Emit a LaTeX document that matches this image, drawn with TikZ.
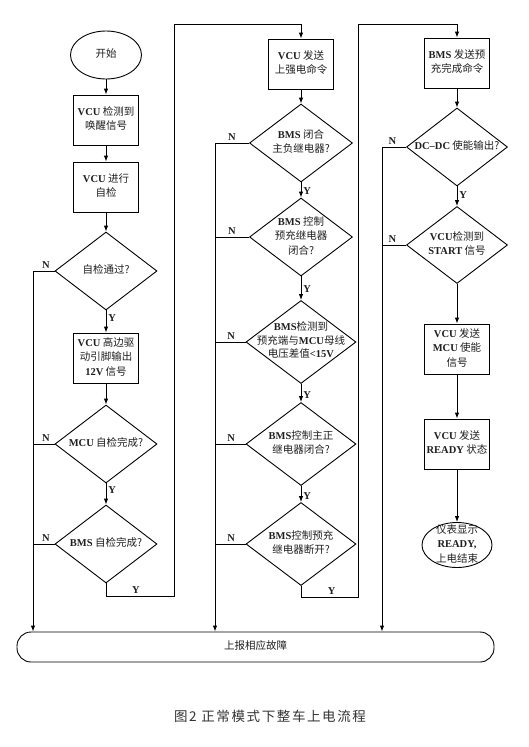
\documentclass[tikz,border=0pt]{standalone}
\usepackage{fontspec}
\setmainfont{Noto Sans CJK SC}
\newfontfamily\latf{Liberation Serif}
\newfontfamily\capfont{Noto Sans CJK SC}[LetterSpace=12]
\usetikzlibrary{shapes.geometric,arrows.meta}
\newcommand{\B}[1]{{\latf\bfseries #1}}
\newcommand{\zt}[1]{\smash{\makebox[0pt]{\raisebox{-2.5pt}{\begin{tabular}{@{}c@{}}#1\end{tabular}}}}}
\begin{document}
\begin{tikzpicture}[x=1pt,y=-1pt,
  every node/.style={font=\fontsize{10.5}{14.5}\selectfont, text=black!88},
  shp/.style={draw=black, line width=0.9pt, inner sep=0pt},
  stepbox/.style={shp, rectangle, minimum width=65pt, minimum height=50pt},
  dec/.style={shp, diamond, minimum width=102pt, minimum height=78pt},
  decw/.style={shp, diamond, minimum width=110pt, minimum height=83pt},
  term/.style={shp, ellipse},
  arr/.style={draw=black, line width=0.9pt, -{Latex[length=6pt,width=4.5pt]}},
  ln/.style={draw=black, line width=0.9pt},
  yl/.style={font=\latf\bfseries\fontsize{10.5}{12}\selectfont, inner sep=2pt},
  nl/.style={font=\latf\bfseries\fontsize{10.5}{12}\selectfont, inner sep=2pt, above},
]
\useasboundingbox (0,0) rectangle (528,747);

% left column
\node[term, minimum width=71pt, minimum height=48pt] (start) at (106,55) {\zt{开始}};
\node[stepbox] (b1) at (106,120) {\zt{\B{VCU} 检测到\\唤醒信号}};
\node[stepbox] (b2) at (106,187) {\zt{\B{VCU} 进行\\自检}};
\node[dec] (d1) at (106,271) {\zt{自检通过?}};
\node[stepbox] (b3) at (106,358) {\zt{\B{VCU} 高边驱\\动引脚输出\\\B{12V} 信号}};
\node[dec] (d2) at (106,444) {\zt{\B{MCU} 自检完成?}};
\node[dec] (d3) at (106,544) {\zt{\B{BMS} 自检完成?}};

% middle column
\node[stepbox] (m1) at (301,64) {\zt{\B{VCU} 发送\\上强电命令}};
\node[dec, minimum width=103pt] (md1) at (301,143) {\zt{\B{BMS} 闭合\\主负继电器?}};
\node[dec, minimum width=103pt] (md2) at (301,237) {\zt{\B{BMS} 控制\\预充继电器\\闭合?}};
\node[decw, font=\fontsize{10.5}{13.5}\selectfont] (md3) at (301,342) {\zt{\B{BMS}检测到\\预充端与\B{MCU}母线\\电压差值\B{<15V}}};
\node[decw] (md4) at (301,444) {\zt{\B{BMS}控制主正\\继电器闭合?}};
\node[decw] (md5) at (301,544) {\zt{\B{BMS}控制预充\\继电器断开?}};

% right column
\node[stepbox] (r1) at (457,63) {\zt{\B{BMS} 发送预\\充完成命令}};
\node[dec, minimum width=101pt] (rd1) at (457,147) {\zt{\B{DC–DC} 使能输出?}};
\node[dec, minimum width=101pt, minimum height=77pt] (rd2) at (457,245) {\zt{\B{VCU}检测到\\\B{START} 信号}};
\node[stepbox] (r2) at (457,349) {\zt{\B{VCU} 发送\\\B{MCU} 使能\\信号}};
\node[stepbox] (r3) at (457,444) {\zt{\B{VCU} 发送\\\B{READY} 状态}};
\node[term, minimum width=70pt, minimum height=45pt] (endn) at (457,545) {\zt{仪表显示\\\B{READY,}\\上电结束}};

% fault bar
\node[shp, rectangle, rounded corners=14pt, minimum width=477pt, minimum height=30pt] (bar) at (255.5,647) {\zt{上报相应故障}};

% caption
\node[font=\capfont\fontsize{13.5}{15}\selectfont, text=black!80] (cap) at (270,716) {图2 正常模式下整车上电流程};

% helper coordinates
\coordinate (nL) at (33,0);
\coordinate (nM) at (215,0);
\coordinate (nR) at (382,0);
\coordinate (lpA) at (174,596);
\coordinate (lpB) at (174,24);
\coordinate (mA) at (358,597);
\coordinate (mB) at (358,24);

% left flow
\draw[arr] (start) -- (b1);
\draw[arr] (b1) -- (b2);
\draw[arr] (b2) -- (d1);
\draw[arr] (d1.south) -- node[yl, right, pos=0.35]{Y} (b3.north);
\draw[arr] (b3) -- (d2);
\draw[arr] (d2.south) -- node[yl, right, pos=0.3]{Y} (d3.north);
\draw[arr] (d3.south) |- node[yl, above, pos=0.72]{Y} (lpA) -- (lpB) -| (m1.north);
\draw[arr] (d1.west) -- node[nl, pos=0.4]{N} (d1.west -| nL) -- (nL |- bar.north);
\draw[ln] (d2.west) -- node[nl, pos=0.4]{N} (d2.west -| nL);
\draw[ln] (d3.west) -- node[nl, pos=0.4]{N} (d3.west -| nL);

% middle flow
\draw[arr] (m1) -- (md1);
\draw[arr] (md1.south) -- node[yl, right, pos=0.6]{Y} (md2.north);
\draw[arr] (md2.south) -- node[yl, right, pos=0.55]{Y} (md3.north);
\draw[arr] (md3.south) -- node[yl, right, pos=0.6]{Y} (md4.north);
\draw[arr] (md4.south) -- node[yl, right, pos=0.6]{Y} (md5.north);
\draw[arr] (md5.south) |- node[yl, above, pos=0.77]{Y} (mA) -- (mB) -| (r1.north);
\draw[arr] (md1.west) -- node[nl, pos=0.5]{N} (md1.west -| nM) -- (nM |- bar.north);
\draw[ln] (md2.west) -- node[nl, pos=0.5]{N} (md2.west -| nM);
\draw[ln] (md3.west) -- node[nl, pos=0.47]{N} (md3.west -| nM);
\draw[ln] (md4.west) -- node[nl, pos=0.47]{N} (md4.west -| nM);
\draw[ln] (md5.west) -- node[nl, pos=0.47]{N} (md5.west -| nM);

% right flow
\draw[arr] (r1) -- (rd1);
\draw[arr] (rd1.south) -- node[yl, right, pos=0.45]{Y} (rd2.north);
\draw[arr] (rd2) -- (r2);
\draw[arr] (r2) -- (r3);
\draw[arr] (r3) -- (endn);
\draw[arr] (rd1.west) -- node[nl, pos=0.57]{N} (rd1.west -| nR) -- (nR |- bar.north);
\draw[ln] (rd2.west) -- node[nl, pos=0.57]{N} (rd2.west -| nR);
\end{tikzpicture}
\end{document}
